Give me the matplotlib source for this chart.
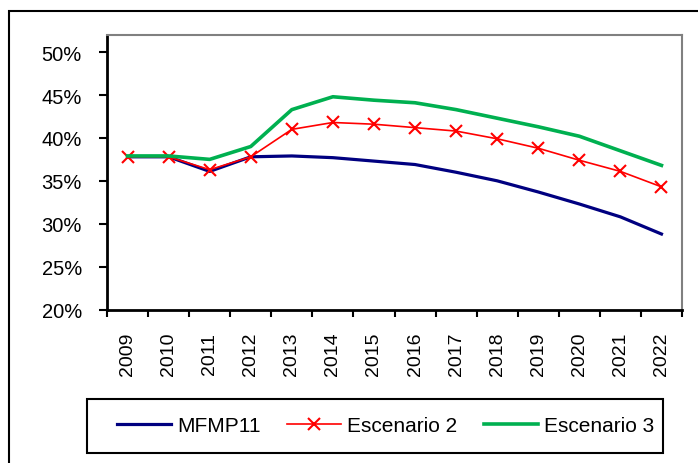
import numpy as np
import matplotlib
matplotlib.use("Agg")
import matplotlib.pyplot as plt
from matplotlib.patches import Rectangle
from matplotlib.ticker import FixedLocator, PercentFormatter

years = ["2009", "2010", "2011", "2012", "2013", "2014", "2015",
         "2016", "2017", "2018", "2019", "2020", "2021", "2022"]
mfmp11 = [37.8, 37.8, 36.1, 37.8, 37.9, 37.7, 37.3, 36.9, 36.0, 35.0, 33.7, 32.3, 30.8, 28.8]
escenario2 = [37.8, 37.8, 36.3, 37.8, 41.0, 41.8, 41.6, 41.2, 40.8, 39.9, 38.8, 37.4, 36.1, 34.3]
escenario3 = [37.9, 37.9, 37.5, 39.0, 43.3, 44.8, 44.4, 44.1, 43.3, 42.3, 41.3, 40.2, 38.5, 36.8]

plt.rcParams['font.family'] = ['Liberation Sans', 'DejaVu Sans']

fig = plt.figure(figsize=(6.98, 4.64), dpi=100)

# outer frame of the chart object
fig.patches.append(Rectangle((9 / 698, -0.1), 1.2, 1 - 12 / 464 + 0.1,
                             transform=fig.transFigure, fill=False,
                             edgecolor='black', linewidth=1.5))
# legend box
fig.patches.append(Rectangle((87 / 698, 1 - 454 / 464), 576 / 698, 54 / 464,
                             transform=fig.transFigure, fill=False,
                             edgecolor='black', linewidth=1.5))

ax = fig.add_axes([107 / 698, 1 - 310.5 / 464, 575 / 698, 274.5 / 464])
x = np.arange(len(years))
ax.plot(x, mfmp11, color='#000080', linewidth=2.3, label='MFMP11')
ax.plot(x, escenario2, color='#FF0000', linewidth=1.2, marker='x',
        markersize=9, markeredgewidth=1.5, label='Escenario 2')
ax.plot(x, escenario3, color='#00B050', linewidth=2.6, label='Escenario 3')

ax.set_xlim(-0.5, len(years) - 0.5)
ax.set_ylim(20, 52)
ax.set_yticks([20, 25, 30, 35, 40, 45, 50])
ax.yaxis.set_major_formatter(PercentFormatter(decimals=0))
ax.set_xticks(x)
ax.set_xticklabels(years, rotation=90)
ax.xaxis.set_minor_locator(FixedLocator(np.arange(-0.5, len(years), 1.0)))
ax.tick_params(axis='x', which='major', length=0, pad=16, labelsize=14)
ax.tick_params(axis='x', which='minor', length=5, width=1.5, direction='out')
ax.tick_params(axis='y', length=6, width=1.5, pad=12, labelsize=14.5)

for side in ['left', 'bottom']:
    ax.spines[side].set_linewidth(2)
    ax.spines[side].set_color('black')
for side in ['top', 'right']:
    ax.spines[side].set_linewidth(1.5)
    ax.spines[side].set_color('#808080')

leg = fig.legend(loc='center left', ncol=3, borderaxespad=0, borderpad=0,
                 bbox_to_anchor=(117 / 698, 1 - 427 / 464),
                 fontsize=15, handlelength=2.6, handletextpad=0.3,
                 columnspacing=1.25, frameon=False)

fig.savefig('out.png', dpi=100)
